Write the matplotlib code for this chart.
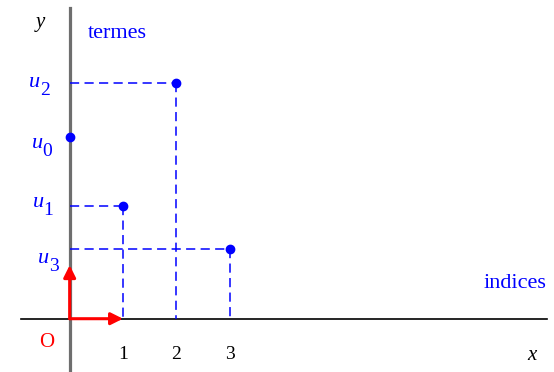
import matplotlib.pyplot as plt

plt.rcParams['font.family'] = ['Liberation Serif', 'DejaVu Serif']

# suite u_n
indices = [0, 1, 2, 3]
termes = [3.40, 2.11, 4.41, 1.30]
indices_lab = ['0', '1', '2', '3']
ticks = [1, 2, 3]

# pixel offsets of each label (left edge, baseline) from the point on the axis
lab_dx = [-38, -37, -41, -32]
lab_dy = [-11, -1, -4, -14]

bleu = '#0000ff'

fig = plt.figure(figsize=(5.54, 3.72), dpi=100)
ax = fig.add_axes([0, 0, 1, 1])
ax.set_xlim(-1.307, 9.086)
ax.set_ylim(-0.996, 5.957)
ax.axis('off')

# axes
ax.plot([-0.91, 8.95], [0, 0], color='black', lw=1.2, zorder=1)
ax.plot([0, 0], [-1.0, 5.81], color='#6e6e6e', lw=2.3, zorder=2)

# pointillés
for n, u in zip(indices, termes):
    if n == 0:
        continue
    ax.plot([0, n], [u, u], color=bleu, lw=1.1, ls=(0, (6, 3.5)), zorder=3)
    ax.plot([n, n], [u, 0], color=bleu, lw=1.1, ls=(0, (6, 3.5)), zorder=3)

ax.plot(indices, termes, 'o', color=bleu, ms=6, zorder=5)

for u, sub, dx, dy in zip(termes, indices_lab, lab_dx, lab_dy):
    ax.annotate('u', xy=(0, u), xytext=(dx, dy), textcoords='offset pixels',
                ha='left', va='baseline', color=bleu, fontsize=16, style='italic')
    ax.annotate(sub, xy=(0, u), xytext=(dx + 11, dy - 8), textcoords='offset pixels',
                ha='left', va='baseline', color=bleu, fontsize=14)

# repère
for tip in [(1, 0), (0, 1)]:
    ax.annotate('', xy=tip, xytext=(0, 0),
                arrowprops=dict(arrowstyle='-|>', color='red', lw=2.2,
                                mutation_scale=18, shrinkA=0, shrinkB=0),
                zorder=6)

for t in ticks:
    ax.text(t, -0.753, str(t), ha='center', va='baseline', fontsize=14)

ax.text(-0.426, -0.529, 'O', color='red', ha='center', va='baseline', fontsize=15)
ax.text(-0.558, 5.45, 'y', style='italic', ha='center', va='baseline', fontsize=15)
ax.text(8.67, -0.772, 'x', style='italic', ha='center', va='baseline', fontsize=15)
ax.text(0.343, 5.25, 'termes', color=bleu, ha='left', va='baseline', fontsize=16)
ax.text(8.937, 0.574, 'indices', color=bleu, ha='right', va='baseline', fontsize=16)

plt.savefig('out.png', dpi=100)
